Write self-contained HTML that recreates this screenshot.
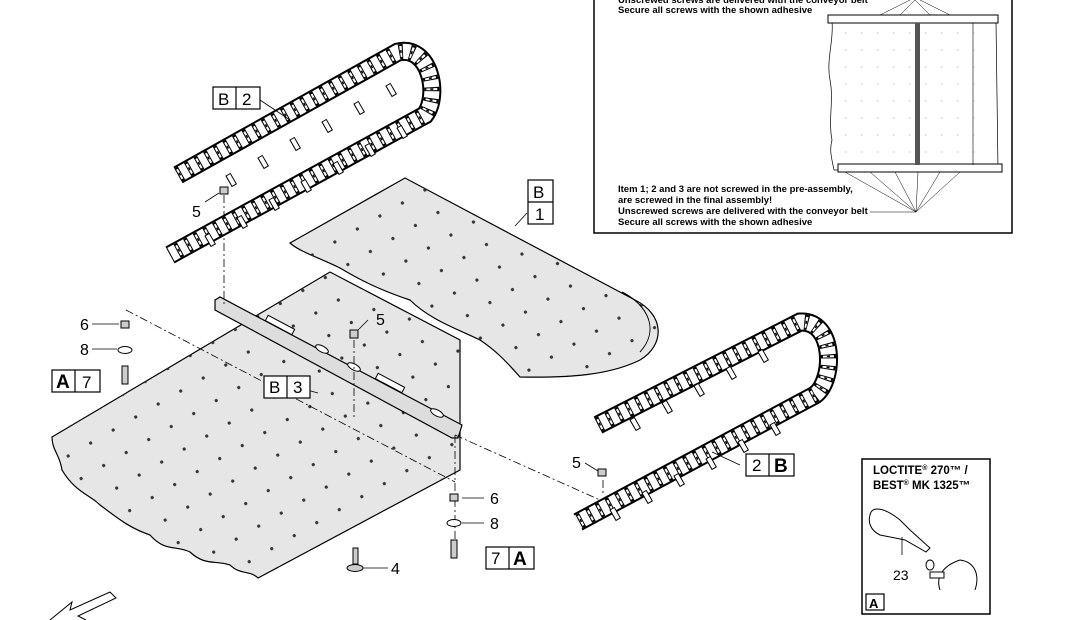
<!DOCTYPE html>
<html><head><meta charset="utf-8"><style>
body{margin:0;background:#fff;width:1092px;height:620px;overflow:hidden}
svg{display:block}
text{font-family:"Liberation Sans",Arial,sans-serif}
</style></head><body>
<svg width="1092" height="620" viewBox="0 0 1092 620">
<defs>
<pattern id="holes" width="26" height="26" patternUnits="userSpaceOnUse" patternTransform="rotate(-30)">
<circle cx="13" cy="13" r="1.6" fill="#333"/></pattern>
</defs>

<!-- lower sheet -->
<path d="M52,437 L330,272 L460,340 L460,470 L258,578 C250,570 240,575 230,565 C215,560 205,566 190,552 C175,545 165,552 150,535 C130,528 120,520 100,505 C90,495 75,492 62,470 C60,455 52,450 52,437 Z" fill="#e6e6e6" stroke="#000" stroke-width="1.2"/>
<path d="M52,437 L330,272 L460,340 L460,470 L258,578 C250,570 240,575 230,565 C215,560 205,566 190,552 C175,545 165,552 150,535 C130,528 120,520 100,505 C90,495 75,492 62,470 C60,455 52,450 52,437 Z" fill="url(#holes)"/>
<!-- upper sheet -->
<path d="M290,243 L405,178 L635,300 C665,315 665,345 640,360 C610,375 570,378 520,377 C505,360 495,350 480,340 C460,330 430,320 410,300 C380,290 360,280 340,268 C320,258 300,252 290,243 Z" fill="#e6e6e6" stroke="#000" stroke-width="1.2"/>
<path d="M290,243 L405,178 L635,300 C665,315 665,345 640,360 C610,375 570,378 520,377 C505,360 495,350 480,340 C460,330 430,320 410,300 C380,290 360,280 340,268 C320,258 300,252 290,243 Z" fill="url(#holes)"/>
<path d="M622,292 C648,305 660,330 640,352" fill="none" stroke="#000" stroke-width="1"/>

<!-- cross bar -->
<path d="M215,300 L220,297 L462,425 L458,438 L452,438 L215,310 Z" fill="#ddd" stroke="#000" stroke-width="1.2"/>
<rect x="265" y="322" width="30" height="6" transform="rotate(28 280 325)" fill="#fff" stroke="#000"/>
<rect x="375" y="380" width="30" height="6" transform="rotate(28 390 383)" fill="#fff" stroke="#000"/>
<ellipse cx="322" cy="349" rx="7" ry="3" transform="rotate(28 322 349)" fill="#fff" stroke="#000"/>
<ellipse cx="354" cy="367" rx="7" ry="3" transform="rotate(28 354 367)" fill="#fff" stroke="#000"/>
<ellipse cx="437" cy="413" rx="7" ry="3" transform="rotate(28 437 413)" fill="#fff" stroke="#000"/>

<!-- dash-dot lines -->
<g stroke="#000" stroke-width="0.8" stroke-dasharray="8,3,2,3" fill="none">
<line x1="224" y1="195" x2="224" y2="305"/>
<line x1="126" y1="310" x2="455" y2="482"/>
<line x1="354" y1="340" x2="354" y2="420"/>
<line x1="455" y1="435" x2="455" y2="548"/>
<line x1="455" y1="435" x2="600" y2="500"/>
<line x1="603" y1="480" x2="603" y2="495"/>
</g>

<!-- top-left chain -->
<g fill="none">
<path id="c1" d="M178,175 L398,52 C430,45 440,95 425,115 L170,255" stroke="#000" stroke-width="19"/>
<path d="M178,175 L398,52 C430,45 440,95 425,115 L170,255" stroke="#fff" stroke-width="15"/>
<path d="M178,175 L398,52 C430,45 440,95 425,115 L170,255" stroke="#000" stroke-width="15" stroke-dasharray="4,7"/>
<path d="M178,175 L398,52 C430,45 440,95 425,115 L170,255" stroke="#fff" stroke-width="11" stroke-dasharray="2,9" stroke-dashoffset="-1"/>
<path d="M178,175 L398,52 C430,45 440,95 425,115 L170,255" stroke="#000" stroke-width="3" stroke-dasharray="1.5,9.5" stroke-dashoffset="-1.2"/>
</g>
<g stroke="#000" stroke-width="1" fill="#fff">
<rect width="5" height="12" transform="translate(258,158) rotate(-30)"/>
<rect width="5" height="12" transform="translate(290,140) rotate(-30)"/>
<rect width="5" height="12" transform="translate(322,122) rotate(-30)"/>
<rect width="5" height="12" transform="translate(354,104) rotate(-30)"/>
<rect width="5" height="12" transform="translate(386,86) rotate(-30)"/>
<rect width="5" height="12" transform="translate(226,176) rotate(-30)"/>
<rect width="5" height="12" transform="translate(205,236) rotate(-30)"/>
<rect width="5" height="12" transform="translate(237,218) rotate(-30)"/>
<rect width="5" height="12" transform="translate(269,200) rotate(-30)"/>
<rect width="5" height="12" transform="translate(301,182) rotate(-30)"/>
<rect width="5" height="12" transform="translate(333,164) rotate(-30)"/>
<rect width="5" height="12" transform="translate(365,146) rotate(-30)"/>
<rect width="5" height="12" transform="translate(397,128) rotate(-30)"/>
</g>

<!-- right chain -->
<g fill="none">
<path d="M598,425 L800,322 C835,320 835,380 815,395 L578,522" stroke="#000" stroke-width="19"/>
<path d="M598,425 L800,322 C835,320 835,380 815,395 L578,522" stroke="#fff" stroke-width="15"/>
<path d="M598,425 L800,322 C835,320 835,380 815,395 L578,522" stroke="#000" stroke-width="15" stroke-dasharray="4,7"/>
<path d="M598,425 L800,322 C835,320 835,380 815,395 L578,522" stroke="#fff" stroke-width="11" stroke-dasharray="2,9" stroke-dashoffset="-1"/>
<path d="M598,425 L800,322 C835,320 835,380 815,395 L578,522" stroke="#000" stroke-width="3" stroke-dasharray="1.5,9.5" stroke-dashoffset="-1.2"/>
</g>
<g stroke="#000" stroke-width="1" fill="#fff">
<rect width="5" height="12" transform="translate(630,420) rotate(-30)"/>
<rect width="5" height="12" transform="translate(662,403) rotate(-30)"/>
<rect width="5" height="12" transform="translate(694,386) rotate(-30)"/>
<rect width="5" height="12" transform="translate(726,369) rotate(-30)"/>
<rect width="5" height="12" transform="translate(758,352) rotate(-30)"/>
<rect width="5" height="12" transform="translate(610,510) rotate(-30)"/>
<rect width="5" height="12" transform="translate(642,493) rotate(-30)"/>
<rect width="5" height="12" transform="translate(674,476) rotate(-30)"/>
<rect width="5" height="12" transform="translate(706,459) rotate(-30)"/>
<rect width="5" height="12" transform="translate(738,442) rotate(-30)"/>
<rect width="5" height="12" transform="translate(770,425) rotate(-30)"/>
</g>

<!-- screws/nuts -->
<g stroke="#000" stroke-width="1" fill="#ccc">
<rect x="220" y="187" width="8" height="7"/>
<rect x="350" y="330" width="8" height="8"/>
<rect x="598" y="469" width="8" height="7"/>
<rect x="121" y="321" width="8" height="7"/>
<ellipse cx="125" cy="350" rx="7" ry="3.5" fill="#fff"/>
<rect x="122" y="366" width="6" height="18"/>
<rect x="450" y="494" width="8" height="7"/>
<ellipse cx="454" cy="523" rx="7" ry="3.5" fill="#fff"/>
<rect x="451" y="540" width="6" height="18"/>
<rect x="353" y="548" width="5" height="16"/>
<ellipse cx="355" cy="568" rx="8" ry="3.5"/>
</g>
<g stroke="#000" stroke-width="0.8">
<line x1="205" y1="202" x2="219" y2="193"/>
<line x1="368" y1="320" x2="358" y2="330"/>
<line x1="92" y1="324" x2="119" y2="324"/>
<line x1="92" y1="349" x2="117" y2="349"/>
<line x1="462" y1="498" x2="484" y2="498"/>
<line x1="462" y1="523" x2="484" y2="523"/>
<line x1="363" y1="568" x2="388" y2="568"/>
<line x1="585" y1="463" x2="598" y2="471"/>
<line x1="260" y1="100" x2="290" y2="120"/>
<line x1="515" y1="226" x2="527" y2="213"/>
<line x1="740" y1="465" x2="712" y2="452"/>
<line x1="300" y1="388" x2="318" y2="393"/>
</g>

<!-- labels -->
<g font-size="16" fill="#000">
<text x="192" y="217">5</text><text x="376" y="325">5</text><text x="572" y="468">5</text>
<text x="80" y="330">6</text><text x="80" y="355">8</text>
<text x="490" y="504">6</text><text x="490" y="529">8</text>
<text x="391" y="574">4</text>
</g>
<g stroke="#000" stroke-width="1.2" fill="#fff">
<rect x="213" y="87" width="47" height="22"/><line x1="236" y1="87" x2="236" y2="109"/>
<rect x="528" y="180" width="25" height="44"/><line x1="528" y1="202" x2="553" y2="202"/>
<rect x="264" y="376" width="46" height="22"/><line x1="287" y1="376" x2="287" y2="398"/>
<rect x="52" y="370" width="48" height="22"/><line x1="75" y1="370" x2="75" y2="392"/>
<rect x="486" y="547" width="48" height="22"/><line x1="509" y1="547" x2="509" y2="569"/>
<rect x="746" y="454" width="48" height="22"/><line x1="769" y1="454" x2="769" y2="476"/>
</g>
<g font-size="17" fill="#000">
<text x="218" y="105">B</text><text x="242" y="105">2</text>
<text x="533" y="198">B</text><text x="535" y="220">1</text>
<text x="269" y="393">B</text><text x="293" y="393">3</text>
<text x="56" y="388" font-weight="bold" font-size="19">A</text><text x="82" y="388">7</text>
<text x="491" y="564">7</text><text x="513" y="565" font-weight="bold" font-size="19">A</text>
<text x="752" y="471">2</text><text x="774" y="472" font-weight="bold" font-size="19">B</text>
</g>

<!-- arrow bottom-left -->
<path d="M50,620 L72,602 L70,610 L110,592 L116,598 L78,616 L86,620" fill="#fff" stroke="#000" stroke-width="1"/>

<!-- top-right box -->
<rect x="594" y="-5" width="418" height="238" fill="#fff" stroke="#000" stroke-width="1.5"/>
<g font-size="9.5" font-weight="bold" fill="#000">
<text x="618" y="3">Unscrewed screws are delivered with the conveyor belt</text>
<text x="618" y="13">Secure all screws with the shown adhesive</text>
<text x="618" y="192">Item 1; 2 and 3 are not screwed in the pre-assembly,</text>
<text x="618" y="203">are screwed in the final assembly!</text>
<text x="618" y="214">Unscrewed screws are delivered with the conveyor belt</text>
<text x="618" y="225">Secure all screws with the shown adhesive</text>
</g>
<line x1="870" y1="212" x2="916" y2="212" stroke="#000" stroke-width="0.6"/>
<path d="M832,22 L996,22 L998,170 L834,170 C832,160 829,150 832,140 C828,120 834,100 830,80 C826,60 834,40 832,22 Z" fill="#fff" stroke="#000" stroke-width="0.7"/>
<rect x="828" y="15" width="170" height="8" fill="#fff" stroke="#000" stroke-width="1"/>
<rect x="838" y="164" width="164" height="8" fill="#fff" stroke="#000" stroke-width="1"/>
<rect x="915" y="23" width="5" height="142" fill="#555"/>
<line x1="973" y1="23" x2="973" y2="165" stroke="#000" stroke-width="0.6"/>
<g fill="none" stroke="#777" stroke-width="0.6">
<path d="M845,33 h130 M845,50 h130 M845,67 h130 M845,84 h130 M845,101 h130 M845,118 h130 M845,135 h130 M845,152 h130" stroke-dasharray="1.5,14.5"/>
</g>
<g stroke="#000" stroke-width="0.5">
<line x1="916" y1="212" x2="845" y2="172"/><line x1="916" y1="212" x2="870" y2="172"/><line x1="916" y1="212" x2="895" y2="172"/><line x1="916" y1="212" x2="918" y2="172"/><line x1="916" y1="212" x2="940" y2="172"/><line x1="916" y1="212" x2="960" y2="172"/>
<line x1="915" y1="0" x2="900" y2="15"/><line x1="915" y1="0" x2="930" y2="15"/><line x1="920" y1="0" x2="950" y2="15"/><line x1="910" y1="0" x2="880" y2="15"/>
</g>

<!-- loctite box -->
<rect x="862" y="459" width="128" height="155" fill="#fff" stroke="#000" stroke-width="1.5"/>
<text x="873" y="474" font-size="11.5" font-weight="bold">LOCTITE<tspan font-size="7" dy="-4">®</tspan><tspan dy="4"> 270™ /</tspan></text>
<text x="873" y="489" font-size="11.5" font-weight="bold">BEST<tspan font-size="7" dy="-4">®</tspan><tspan dy="4"> MK 1325™</tspan></text>
<path d="M870,515 C872,505 885,508 900,520 L910,530 L930,548 L926,552 L905,540 L880,535 C870,530 868,522 870,515 Z" fill="#fff" stroke="#000" stroke-width="1"/>
<line x1="902" y1="537" x2="902" y2="555" stroke="#000" stroke-width="0.8"/>
<text x="893" y="580" font-size="14">23</text>
<ellipse cx="930" cy="565" rx="4" ry="5" fill="#fff" stroke="#000"/>
<path d="M940,590 C935,575 945,565 960,560 C975,562 980,575 975,590" fill="#fff" stroke="#000"/>
<rect x="930" y="572" width="14" height="6" fill="#fff" stroke="#000"/>
<rect x="866" y="594" width="18" height="16" fill="#fff" stroke="#000" stroke-width="1.2"/>
<text x="869" y="608" font-size="13" font-weight="bold">A</text>
</svg>
</body></html>
